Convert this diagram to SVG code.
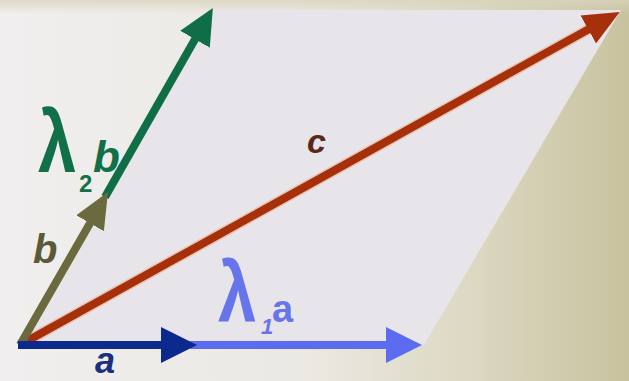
<svg xmlns="http://www.w3.org/2000/svg" width="629" height="381" viewBox="0 0 629 381">
  <defs>
    <linearGradient id="bg" x1="0" y1="0" x2="1" y2="0">
      <stop offset="0" stop-color="#f1efef"/>
      <stop offset="0.5" stop-color="#eae8e1"/>
      <stop offset="0.75" stop-color="#dcd8c2"/>
      <stop offset="1" stop-color="#c8c29e"/>
    </linearGradient>
    <linearGradient id="topband" x1="0" y1="0" x2="0" y2="1">
      <stop offset="0" stop-color="#d8d4bd" stop-opacity="0.8"/>
      <stop offset="1" stop-color="#d8d4bd" stop-opacity="0"/>
    </linearGradient>
    <marker id="hGreen" markerUnits="userSpaceOnUse" markerWidth="36" markerHeight="34" refX="2" refY="17" orient="auto">
      <path d="M0,0 L36,17 L0,34 Z" fill="#0f6e46"/>
    </marker>
    <marker id="hOlive" markerUnits="userSpaceOnUse" markerWidth="36" markerHeight="32" refX="2" refY="16" orient="auto">
      <path d="M0,0 L36,16 L0,32 Z" fill="#6a6a3e"/>
    </marker>
    <marker id="hRed" markerUnits="userSpaceOnUse" markerWidth="36" markerHeight="32" refX="2" refY="16" orient="auto">
      <path d="M0,0 L36,16 L0,32 Z" fill="#a6300c"/>
    </marker>
    <marker id="hBlue" markerUnits="userSpaceOnUse" markerWidth="36" markerHeight="36" refX="2" refY="18" orient="auto">
      <path d="M0,0 L36,18 L0,36 Z" fill="#0c2a8e"/>
    </marker>
    <marker id="hLight" markerUnits="userSpaceOnUse" markerWidth="36" markerHeight="36" refX="2" refY="18" orient="auto">
      <path d="M0,0 L36,18 L0,36 Z" fill="#5b6cf0"/>
    </marker>
  </defs>
  <style>
    .vec { stroke-width: 8; fill: none; stroke-linecap: butt; }
    .lbl { font-family: "Liberation Sans", Arial, sans-serif; font-weight: bold; }
  </style>

  <rect x="0" y="0" width="629" height="381" fill="url(#bg)"/>
  <rect x="0" y="0" width="629" height="14" fill="url(#topband)"/>

  <g id="parallelogram">
    <polygon points="20,345 424,345 621,10 213,10" fill="#e7e4ea"/>
  </g>

  <g id="connectors">
    <line x1="20" y1="345" x2="590" y2="28.5" stroke="#f0a070" stroke-width="11" opacity="0.45"/>
    <line class="vec" x1="20" y1="345" x2="590" y2="28.5" stroke="#a6300c" marker-end="url(#hRed)"/>
    <line class="vec" x1="105" y1="197" x2="196" y2="37.5" stroke="#0f6e46" marker-end="url(#hGreen)"/>
    <line class="vec" x1="20" y1="345" x2="91" y2="221.5" stroke="#6a6a3e" marker-end="url(#hOlive)"/>
    <line class="vec" x1="190" y1="345" x2="388" y2="345" stroke="#5b6cf0" marker-end="url(#hLight)"/>
    <line class="vec" x1="18" y1="345" x2="163" y2="345" stroke="#0c2a8e" marker-end="url(#hBlue)"/>
  </g>

  <g id="label-lambda2b">
    <text class="lbl" fill="#117048" font-size="88" transform="translate(38,172) scale(0.78,1)">λ</text>
    <text class="lbl" fill="#117048" x="79" y="192" font-size="24" font-weight="normal">2</text>
    <text class="lbl" fill="#117048" x="93" y="172" font-size="44" font-style="italic">b</text>
  </g>
  <g id="label-c">
    <text class="lbl" fill="#5a2818" x="307" y="153" font-size="34" font-style="italic">c</text>
  </g>
  <g id="label-b">
    <text class="lbl" fill="#5c5a36" x="33" y="263" font-size="40" font-style="italic">b</text>
  </g>
  <g id="label-lambda1a">
    <text class="lbl" fill="#6676ea" font-size="86" transform="translate(218,322) scale(0.8,1)">λ</text>
    <text class="lbl" fill="#6676ea" x="261" y="334" font-size="22" font-weight="normal" font-style="italic">1</text>
    <text class="lbl" fill="#6676ea" x="272" y="322" font-size="38" font-weight="normal">a</text>
  </g>
  <g id="label-a">
    <text class="lbl" fill="#1a2e82" x="95" y="373" font-size="36" font-style="italic">a</text>
  </g>
</svg>
